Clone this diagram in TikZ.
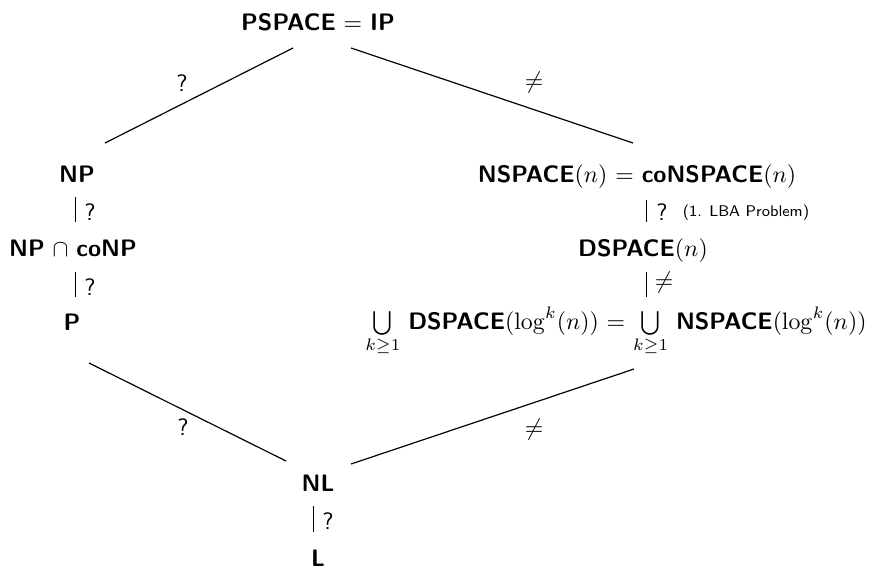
\documentclass[tikz,border=0pt]{standalone}
\usepackage{amsmath,amssymb}
\usetikzlibrary{calc}
\newcommand{\cls}[1]{\textsf{\textbf{#1}}}
\begin{document}
\begin{tikzpicture}[x=0.42pt,y=-0.42pt,
  cnode/.style={inner sep=0pt,anchor=base,font=\sffamily},
  lbl/.style={inner sep=0pt,font=\sffamily},
  conn/.style={line width=0.5pt},
  vconn/.style={line width=0.4pt}]
\useasboundingbox (0,0) rectangle (870,568);
% class nodes
\node[cnode] (top) at (318,30) {\cls{PSPACE} $=$ \cls{IP}};
\node[cnode] (np) at (77,182) {\cls{NP}};
\node[cnode] (npc) at (73,256) {\cls{NP} $\cap$ \cls{coNP}};
\node[cnode] (p) at (72,330) {\cls{P}};
\node[cnode] (ns) at (637,182) {\cls{NSPACE}$(n)$ $=$ \cls{coNSPACE}$(n)$};
\node[cnode] (ds) at (643,256) {\cls{DSPACE}$(n)$};
\node[cnode] (un) at (616,329) {$\bigcup\limits_{k\geq 1}$ \cls{DSPACE}$(\log^k(n))$ $=$ $\bigcup\limits_{k\geq 1}$ \cls{NSPACE}$(\log^k(n))$};
\node[cnode] (nl) at (318,491) {\cls{NL}};
\node[cnode] (l) at (318,566) {\cls{L}};
% diagonal connectors
\draw[conn] ($(np.base)+(28,-39)$) -- ($(top.base)+(-25,18)$);
\draw[conn] ($(top.base)+(33,18)$) -- ($(ns.base)+(-4,-39)$);
\draw[conn] ($(p.base)+(17,33)$) -- ($(nl.base)+(-32,-30)$);
\draw[conn] ($(nl.base)+(33,-27)$) -- ($(un.base)+(18,40)$);
% vertical connectors
\draw[vconn] ($(np.base)+(-2,15)$) -- ($(npc.base)+(2,-34)$);
\draw[vconn] ($(npc.base)+(2,16)$) -- ($(p.base)+(3,-33)$);
\draw[vconn] ($(ns.base)+(9,18)$) -- ($(ds.base)+(3,-34)$);
\draw[vconn] ($(ds.base)+(3,16)$) -- ($(un.base)+(30,-32)$);
\draw[vconn] ($(nl.base)+(-5,15)$) -- ($(l.base)+(-5,-34)$);
% labels
\node[lbl] (q1) at (182,83) {?};
\node[lbl] (n1) at (534,83) {$\neq$};
\node[lbl] (q2) at (90,212) {?};
\node[lbl] (q3) at (90,287) {?};
\node[lbl] (q4) at (662,212) {?};
\node[lbl,font=\sffamily\fontsize{6.5}{8}\selectfont] (lba) at (746,213) {(1. LBA Problem)};
\node[lbl] (n2) at (664,283) {$\neq$};
\node[lbl] (q5) at (183,427) {?};
\node[lbl] (n3) at (534,430) {$\neq$};
\node[lbl] (q6) at (328,521) {?};
\end{tikzpicture}
\end{document}
